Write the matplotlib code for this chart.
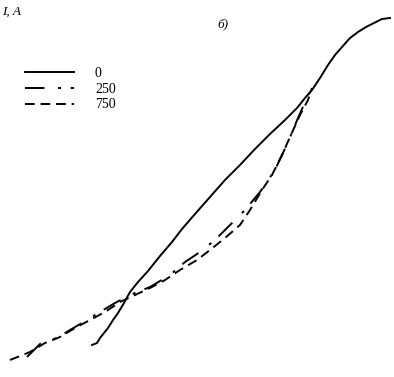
import matplotlib
matplotlib.use("Agg")
import matplotlib.pyplot as plt

# Curve data (x in arbitrary units, y = current I, A in arbitrary units)
x0 = [92, 97, 100, 104, 108, 113, 118, 124, 130, 138, 148, 160, 172, 182, 195, 210, 225, 240, 255, 270, 285, 297, 305, 312, 320, 328, 335, 342, 350, 358, 366, 374, 382, 390]
y0 = [32, 34, 39, 44, 49, 57, 64, 74, 85, 95, 106, 121, 135, 148, 163, 180, 197, 212, 228, 243, 257, 269, 279, 287, 299, 312, 322, 330, 339, 345, 350, 354, 358, 359]

x250 = [27, 42, 57, 70, 87, 100, 115, 130, 150, 170, 185, 200, 215, 230, 245, 260, 275, 288, 298, 306, 312]
y250 = [20, 35, 39, 47, 57, 65, 74, 82, 90, 102, 115, 125, 137, 152, 167, 185, 207, 235, 259, 277, 289]

x750 = [10, 30, 45, 60, 75, 90, 105, 120, 135, 150, 165, 180, 197, 210, 225, 240, 250, 262, 272, 282, 290, 300, 308, 312]
y750 = [17, 25, 34, 40, 49, 57, 65, 75, 82, 89, 97, 107, 117, 127, 139, 152, 167, 187, 202, 222, 240, 262, 277, 289]

labels = ["0", "250", "750"]

plt.rcParams['font.family'] = ['Liberation Serif', 'DejaVu Serif']

fig = plt.figure(figsize=(3.94, 3.77), dpi=100)
ax = fig.add_axes([0, 0, 1, 1])
ax.set_xlim(0, 394)
ax.set_ylim(0, 377)
ax.axis('off')

lw = 1.4
ax.plot(x0, y0, color='black', lw=lw, linestyle='-', label=labels[0])
ax.plot(x250, y250, color='black', lw=lw, linestyle=(0, (10, 7, 1.5, 5)), label=labels[1])
ax.plot(x750, y750, color='black', lw=lw, linestyle=(0, (5, 3)), label=labels[2])

leg = ax.legend(loc='upper left', bbox_to_anchor=(0.047, 0.841), frameon=False,
                handlelength=3.5, handletextpad=1.5, labelspacing=0.2, fontsize=10,
                borderpad=0)

fig.text(0.005, 0.985, "I, A", fontsize=9.5, style='italic', va='top', ha='left')
fig.text(0.553, 0.935, "б)", fontsize=9.5, style='italic', va='center', ha='left')

fig.savefig("out.png", dpi=100)
